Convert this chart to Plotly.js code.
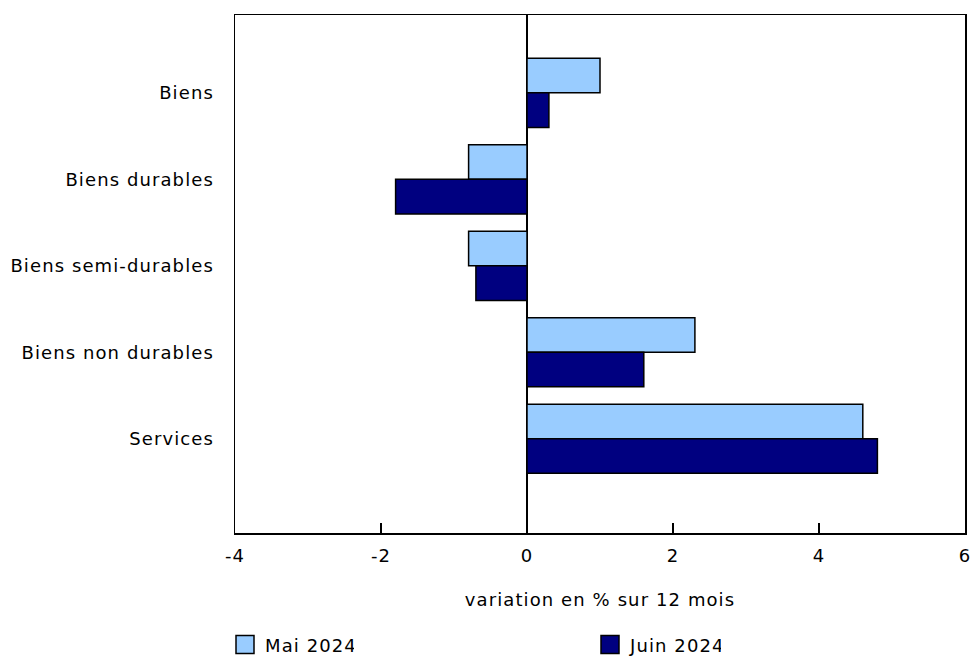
<!DOCTYPE html>
<html>
<head>
<meta charset="utf-8">
<script src="https://cdn.plot.ly/plotly-3.0.1.min.js"></script>
<style>
html,body{margin:0;padding:0;background:#fff;}
#chart{width:974px;height:658px;}
#chart svg text{letter-spacing:1.1px;}
</style>
</head>
<body>
<div id="chart"></div>
<script>
const categories = ["Biens", "Biens durables", "Biens semi-durables", "Biens non durables", "Services"];
const mai2024 = [1.0, -0.8, -0.8, 2.3, 4.6];
const juin2024 = [0.3, -1.8, -0.7, 1.6, 4.8];
const xTicks = [-4, -2, 0, 2, 4, 6];

const font = {family: "DejaVu Sans, Verdana, sans-serif", size: 18, color: "#000"};

const data = [
  {type: "bar", orientation: "h", name: "Mai 2024", y: categories, x: mai2024, legend: "legend",
   marker: {color: "#99CCFF", line: {color: "#000", width: 1.5}}},
  {type: "bar", orientation: "h", name: "Juin 2024", y: categories, x: juin2024, legend: "legend2",
   marker: {color: "#000080", line: {color: "#000", width: 1.5}}}
];

function legendAt(px) {
  return {orientation: "h", xref: "container", x: px / 974, xanchor: "left",
          yref: "container", y: 0.02, yanchor: "middle", font: font, bgcolor: "rgba(0,0,0,0)"};
}

const layout = {
  width: 974, height: 658,
  margin: {l: 235, r: 9, t: 15, b: 125, autoexpand: false},
  font: font,
  paper_bgcolor: "#fff", plot_bgcolor: "#fff",
  barmode: "group", bargap: 0.2, bargroupgap: 0,
  showlegend: true,
  legend: legendAt(225),
  legend2: legendAt(590),
  xaxis: {
    range: [-4, 6], tickvals: xTicks, ticktext: xTicks.map(String), tickfont: font,
    showgrid: false, zeroline: true, zerolinecolor: "#000", zerolinewidth: 1.5,
    showline: true, linecolor: "#000", linewidth: 1.5, mirror: true,
    ticks: "inside", ticklen: 10, tickcolor: "#000", tickwidth: 1.5, ticklabelstandoff: 6,
    title: {text: "variation en % sur 12 mois", font: font, standoff: 28},
    fixedrange: true
  },
  yaxis: {
    range: [5.09, -0.9], showgrid: false, showline: true, linecolor: "#000", linewidth: 1.5,
    mirror: true, ticks: "", tickfont: font, ticklabelstandoff: 16, fixedrange: true
  }
};

Plotly.newPlot("chart", data, layout, {displayModeBar: false, staticPlot: true}).then(function (gd) {
  gd.querySelectorAll(".legendpoints path").forEach(function (p) {
    const t = p.getAttribute("transform") || "";
    p.setAttribute("transform", t + " scale(1.5)");
    p.style.strokeWidth = "1px";
  });
});
</script>
</body>
</html>
